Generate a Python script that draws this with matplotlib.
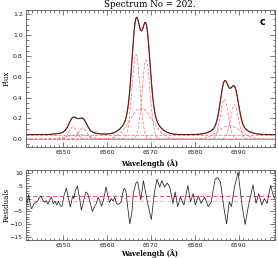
import numpy as np
import matplotlib
matplotlib.use('Agg')
import matplotlib.pyplot as plt
from matplotlib.ticker import MultipleLocator

# ---- data ----
continuum = 0.045
comp_center = [6552.3, 6554.5, 6553.4, 6566.6, 6568.9, 6567.75, 6586.7, 6589.0, 6587.85]
comp_amp = [0.12, 0.109, 0.045, 0.815, 0.762, 0.30, 0.384, 0.332, 0.13]
comp_sigma = [0.9, 0.9, 2.6, 0.9, 0.9, 2.6, 0.9, 0.9, 2.6]

res_wave = [6541.6, 6541.9, 6542.2, 6542.6, 6542.9, 6543.4, 6543.8, 6544.2, 6544.6, 6545.0,
            6545.4, 6545.8, 6546.2, 6546.6, 6547.0, 6547.4, 6547.8, 6548.2, 6548.6, 6549.0,
            6549.4, 6549.8, 6550.3, 6550.8, 6551.2, 6551.7, 6552.2, 6552.5, 6552.8, 6553.3,
            6553.8, 6554.2, 6554.7, 6555.2, 6555.6, 6556.1, 6556.7, 6557.2, 6557.6, 6558.0,
            6558.4, 6558.8, 6559.3, 6559.8, 6560.3, 6560.6, 6561.0, 6561.4, 6561.8, 6562.2,
            6562.7, 6563.2, 6563.6, 6563.9, 6564.3, 6564.7, 6565.2, 6565.7, 6566.0, 6566.6,
            6567.0, 6567.7, 6568.3, 6569.2, 6570.1, 6570.8, 6571.4, 6572.0, 6572.5, 6573.1,
            6573.7, 6574.3, 6575.0, 6575.5, 6576.1, 6576.7, 6577.5, 6578.4, 6579.0, 6579.6,
            6580.1, 6580.8, 6581.4, 6582.2, 6583.0, 6583.7, 6584.6, 6585.2, 6585.8, 6586.6,
            6587.2, 6587.8, 6588.3, 6589.0, 6589.8, 6590.7, 6591.4, 6592.2, 6593.2, 6593.9,
            6594.5, 6595.2, 6595.8, 6596.4, 6597.2, 6597.9, 6598.2]
res_val = [0.5, -1.8, 1.5, -2.5, -4.0, -2.0, -1.5, -1.2, 0.3, 1.0,
           -0.5, -1.5, -0.8, -2.2, -0.5, 0.5, -2.0, -1.0, -2.5, -1.0,
           -2.8, -3.0, 1.5, 4.0, 0.5, -3.3, 1.0, 0.0, 3.0, 4.8,
           0.0, -4.5, -1.0, 2.5, 2.0, -1.0, -5.0, -3.0, -2.0, 0.5,
           -1.0, -3.0, 0.0, 4.5, 0.5, -1.5, 0.0, -1.0, 0.5, -2.0,
           -2.2, -1.5, 2.0, 4.0, 3.0, -3.0, -9.8, -5.0, 2.0, 6.0,
           6.5, -0.6, 6.9, -1.3, -8.1, 2.5, 7.5, 4.4, 6.9, 4.4,
           6.0, 4.4, -1.9, 2.5, -3.1, 0.6, -2.5, 5.0, -1.3, 1.9,
           -2.5, 1.0, -1.9, 0.6, -3.1, -1.3, 7.5, 8.1, 6.3, -3.7,
           -9.8, -1.3, -3.1, 4.4, 10.3, -2.5, -10.0, -2.5, 5.3, -1.9,
           1.9, -2.5, 0.0, -1.9, 5.0, 0.6, 0.0]
res_levels = [1.0, -1.0]

xlim = (6541.5, 6598.2)

# ---- figure ----
W, H = 278, 258
fig = plt.figure(figsize=(W / 100, H / 100), dpi=100)
ax1 = fig.add_axes([25.5 / W, 1 - 147 / H, (275 - 25.5) / W, (147 - 10) / H])
ax2 = fig.add_axes([25.5 / W, 1 - 240 / H, (275 - 25.5) / W, (240 - 170) / H])

wl = np.linspace(xlim[0], xlim[1], 1200)
comps = [a * np.exp(-0.5 * ((wl - c) / s) ** 2)
         for c, a, s in zip(comp_center, comp_amp, comp_sigma)]
model = continuum + np.sum(comps, axis=0)

comp_col = '#f07a7a'
for cp in comps:
    ax1.plot(wl, cp, color=comp_col, lw=0.55, ls=(0, (4, 2)))
ax1.axhline(continuum, color=comp_col, lw=0.55, ls=(0, (4, 2)))
ax1.plot(wl, model, color='#d03030', lw=0.9)
ax1.plot(wl, model, color='#222222', lw=0.5)
ax1.set_xlim(*xlim)
ax1.set_ylim(-0.074, 1.241)

ax2.axhline(res_levels[0], color='#e04040', lw=0.6, ls=(0, (5, 3)))
ax2.axhline(res_levels[1], color='#f4a8a8', lw=0.6, ls=(0, (5, 3)))
ax2.plot(res_wave, res_val, color='#222222', lw=0.55)
ax2.set_xlim(*xlim)
ax2.set_ylim(-16, 11)

for ax in (ax1, ax2):
    ax.xaxis.set_major_locator(MultipleLocator(10))
    ax.xaxis.set_minor_locator(MultipleLocator(1))
    ax.tick_params(which='both', direction='in', top=True, right=True,
                   labelsize=4.5, width=0.5, pad=2.0, colors='#444444',
                   labelcolor='#222222')
    ax.tick_params(which='major', length=3.5)
    ax.tick_params(which='minor', length=1.8)
    for sp in ax.spines.values():
        sp.set_linewidth(0.6)
        sp.set_color('#555555')

ax1.yaxis.set_major_locator(MultipleLocator(0.2))
ax1.yaxis.set_minor_locator(MultipleLocator(0.05))
ax1.set_yticks(np.arange(0, 1.21, 0.2))
ax1.set_yticklabels(['0.0', '0.2', '0.4', '0.6', '0.8', '1.0', '1.2'])
ax2.yaxis.set_major_locator(MultipleLocator(5))
ax2.yaxis.set_minor_locator(MultipleLocator(1))

serif = ['DejaVu Serif']
ax1.set_title('Spectrum No = 202.', fontsize=6.3, family=serif, pad=2.2)
fig.text(7 / W, 1 - 78 / H, 'Flux', rotation=90, fontsize=5, family=serif,
         ha='center', va='center')
fig.text(7 / W, 1 - 205 / H, 'Residuals', rotation=90, fontsize=5, family=serif,
         ha='center', va='center')
fig.text(150 / W, 1 - 163.5 / H, 'Wavelength (Å)', fontsize=4.8, family=serif,
         fontweight='bold', ha='center', va='center')
fig.text(150 / W, 1 - 253.5 / H, 'Wavelength (Å)', fontsize=4.8, family=serif,
         fontweight='bold', ha='center', va='center')
fig.text(263 / W, 1 - 22 / H, 'c', fontsize=7, fontweight='bold',
         ha='center', va='center')

fig.savefig('out.png', dpi=100)
